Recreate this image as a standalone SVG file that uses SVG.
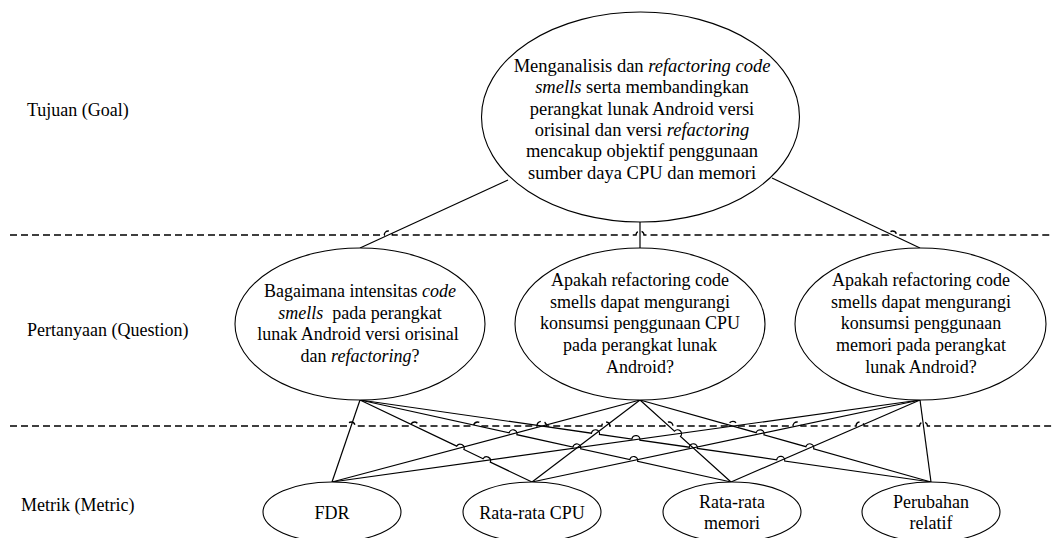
<svg xmlns="http://www.w3.org/2000/svg" width="1053" height="538" viewBox="0 0 1053 538">
<style>
  text { font-family: "Liberation Serif", "Times New Roman", "DejaVu Serif", serif; font-size: 18px; fill: #000; }
  .c { text-anchor: middle; }
  .i { font-style: italic; }
  .g { font-size: 18.5px; }
  .node { fill: #fff; stroke: #000; stroke-width: 1.1; }
  .conn { fill: none; stroke: #000; stroke-width: 1.2; }
  .dash { fill: none; stroke: #000; stroke-width: 1.4; stroke-dasharray: 7 4; }
</style>
<rect width="1053" height="538" fill="#fff"/>

<g id="labels">
  <text x="27" y="116">Tujuan (Goal)</text>
  <text x="27" y="336">Pertanyaan (Question)</text>
  <text x="21" y="511">Metrik (Metric)</text>
</g>

<g id="connectors">
  <path class="conn" d="M508,180 L360,248"/>
  <path class="conn" d="M640,222 L640,248"/>
  <path class="conn" d="M772,178 L920,248"/>

  <path class="conn" d="M360,400 L332,482"/>
  <path class="conn" d="M360,400 L456.7,446.1 A4,4 0 0 1 463.9,449.5 L483.1,458.7 A4,4 0 0 1 490.3,462.1 L532,482"/>
  <path class="conn" d="M360,400 L509.1,432.9 A4,4 0 0 1 516.9,434.7 L572.9,447 A4,4 0 0 1 580.7,448.8 L629.8,459.6 A4,4 0 0 1 637.6,461.4 L731,482"/>
  <path class="conn" d="M360,400 L591.5,433.2 A4,4 0 0 1 599.5,434.4 L631.9,439 A4,4 0 0 1 639.9,440.2 L689.3,447.2 A4,4 0 0 1 697.3,448.4 L776.7,459.8 A4,4 0 0 1 784.7,461 L931,482"/>

  <path class="conn" d="M640,400 L332,482"/>
  <path class="conn" d="M640,400 L532,482"/>
  <path class="conn" d="M640,400 L674.5,431.1 A4,4 0 0 1 680.5,436.5 L731,482"/>
  <path class="conn" d="M640,400 L756.2,432.7 A4,4 0 0 1 763.9,434.9 L805.9,446.7 A4,4 0 0 1 813.6,448.9 L931,482"/>

  <path class="conn" d="M920,400 L332,482"/>
  <path class="conn" d="M920,400 L532,482"/>
  <path class="conn" d="M920,400 L731,482"/>
  <path class="conn" d="M920,400 L931,482"/>

  <path class="dash" d="M10,235 H384.3 A4,4 0 0 1 392.3,235 H636 A4,4 0 0 1 644,235 H888.5 A4,4 0 0 1 896.5,235 H1053"/>
  <path class="dash" d="M10,426 H347.1 A4,4 0 0 1 355.1,426 H410.5 A4,4 0 0 1 418.5,426 H473.6 A4,4 0 0 1 481.6,426 H537 A4.75,4.75 0 0 1 546.5,426 H601.8 A4,4 0 0 1 609.8,426 H664.9 A4,4 0 0 1 672.9,426 H728.3 A4.6,4.6 0 0 1 737.5,426 H793 A4,4 0 0 1 801,426 H856.1 A4,4 0 0 1 864.1,426 H919.5 A4,4 0 0 1 927.5,426 H1053"/>
</g>

<g id="goal">
  <ellipse class="node" cx="640.5" cy="117" rx="159" ry="105"/>
  <text class="c g" x="642" y="72">Menganalisis dan <tspan class="i">refactoring code</tspan></text>
  <text class="c g" x="642" y="93.3"><tspan class="i">smells</tspan> serta membandingkan</text>
  <text class="c g" x="642" y="114.6">perangkat lunak Android versi</text>
  <text class="c g" x="642" y="135.9">orisinal dan versi <tspan class="i">refactoring</tspan></text>
  <text class="c g" x="642" y="157.2">mencakup objektif penggunaan</text>
  <text class="c g" x="642" y="178.5">sumber daya CPU dan memori</text>
</g>

<g id="q1">
  <ellipse class="node" cx="360" cy="324" rx="125" ry="76"/>
  <text class="c" x="360" y="297">Bagaimana intensitas <tspan class="i">code</tspan></text>
  <text class="c" x="360" y="318.5" xml:space="preserve"><tspan class="i">smells</tspan>  pada perangkat</text>
  <text class="c" x="358" y="340">lunak Android versi orisinal</text>
  <text class="c" x="360" y="361.5">dan <tspan class="i">refactoring</tspan>?</text>
</g>

<g id="q2">
  <ellipse class="node" cx="640" cy="324" rx="125" ry="76"/>
  <text class="c" x="640" y="286">Apakah refactoring code</text>
  <text class="c" x="640" y="307.7">smells dapat mengurangi</text>
  <text class="c" x="640" y="329.4">konsumsi penggunaan CPU</text>
  <text class="c" x="640" y="351.1">pada perangkat lunak</text>
  <text class="c" x="640" y="372.8">Android?</text>
</g>

<g id="q3">
  <ellipse class="node" cx="920.5" cy="324" rx="125.5" ry="76"/>
  <text class="c" x="921" y="286">Apakah refactoring code</text>
  <text class="c" x="921" y="307.7">smells dapat mengurangi</text>
  <text class="c" x="921" y="329.4">konsumsi penggunaan</text>
  <text class="c" x="921" y="351.1">memori pada perangkat</text>
  <text class="c" x="921" y="372.8">lunak Android?</text>
</g>

<g id="m1">
  <ellipse class="node" cx="332" cy="512" rx="69" ry="30"/>
  <text class="c" x="332" y="519">FDR</text>
</g>
<g id="m2">
  <ellipse class="node" cx="532" cy="512" rx="69" ry="30"/>
  <text class="c" x="532" y="519">Rata-rata CPU</text>
</g>
<g id="m3">
  <ellipse class="node" cx="732" cy="512" rx="69" ry="30"/>
  <text class="c" x="732" y="507.5">Rata-rata</text>
  <text class="c" x="732" y="529">memori</text>
</g>
<g id="m4">
  <ellipse class="node" cx="931" cy="512" rx="69" ry="30"/>
  <text class="c" x="931" y="507.5">Perubahan</text>
  <text class="c" x="931" y="529">relatif</text>
</g>
</svg>
